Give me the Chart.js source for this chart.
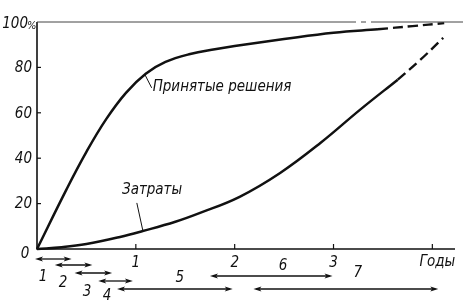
<!DOCTYPE html>
<html lang="ru">
<head>
<meta charset="UTF-8">
<title>Принятые решения и затраты</title>
<style>
  body { margin: 0; background: #fff; }
  #wrap { width: 463px; height: 307px; position: relative; }
</style>
</head>
<body>
<div id="wrap"><canvas id="chart"></canvas></div>
<script src="https://cdn.jsdelivr.net/npm/chart.js"></script>
<script>
// Decisions made, % (solid part, then the dashed extrapolation)
const decYears = [0, 0.3, 0.5, 0.7, 0.9, 1.1, 1.3, 1.55, 1.8, 2.0, 2.5, 3.0, 3.45];
const decValues = [0, 26.4, 42.8, 57.2, 68.8, 77.2, 82.4, 85.9, 88, 89.4, 92.5, 95.3, 96.8];
const decDashYears = [3.45, 3.8, 4.12];
const decDashValues = [96.8, 98.2, 99.5];

// Costs, %
const costYears = [0, 0.25, 0.5, 0.84, 1.07, 1.4, 1.65, 2.05, 2.46, 2.87, 3.27, 3.65];
const costValues = [0, 0.8, 2.2, 5.3, 7.9, 12, 15.9, 23, 33.5, 46.8, 61.4, 74.6];
const costDashYears = [3.65, 3.88, 4.11];
const costDashValues = [74.6, 83.4, 93];

// Axis ticks
const yTicks = [20, 40, 60, 80];
const xTicks = [1, 2, 3];
const xTickLabels = ['1', '2', '3'];

// Stages (years) shown as arrows under the axis
const stageLabels = ['1', '2', '3', '4', '5', '6', '7'];
const stageStart = [-0.02, 0.18, 0.38, 0.62, 0.81, 1.75, 2.19];
const stageEnd = [0.35, 0.56, 0.76, 0.97, 1.98, 2.99, 4.06];

const pts = (xs, ys) => xs.map((x, i) => ({ x: x, y: ys[i] }));
const FONT = "'DejaVu Sans Condensed', 'DejaVu Sans', sans-serif";

// rows for the arrows and their numbers (pixels below the axis)
const stageRowY = [10, 16, 24, 32, 40, 27, 40];
const stageTextDx = [-0.105, -0.107, -0.064, -0.086, 0.05, 0.12, 0.12];
const stageTextY = [28, 34, 43, 47, 29, 17, 24];

function arrowHead(ctx, x, y, dir) {
    ctx.beginPath();
    ctx.moveTo(x, y);
    ctx.lineTo(x - dir * 8, y - 2.5);
    ctx.lineTo(x - dir * 6, y);
    ctx.lineTo(x - dir * 8, y + 2.5);
    ctx.closePath();
    ctx.fill();
}

const drawFrame = {
    id: 'drawFrame',
    afterDraw(chart) {
        const ctx = chart.ctx;
        const xs = chart.scales.x, ys = chart.scales.y;
        const x0 = xs.getPixelForValue(0), y0 = ys.getPixelForValue(0);
        const yTop = ys.getPixelForValue(100);
        ctx.save();
        ctx.strokeStyle = '#111';
        ctx.fillStyle = '#111';

        // axes
        ctx.lineWidth = 1.6;
        ctx.beginPath();
        ctx.moveTo(x0, yTop);
        ctx.lineTo(x0, y0);
        ctx.lineTo(455, y0);
        ctx.stroke();

        // 100% line with a small break
        ctx.lineWidth = 1;
        ctx.strokeStyle = '#444';
        ctx.beginPath();
        ctx.moveTo(x0, yTop); ctx.lineTo(356, yTop);
        ctx.moveTo(361, yTop); ctx.lineTo(366, yTop);
        ctx.moveTo(371, yTop); ctx.lineTo(463, yTop);
        ctx.stroke();
        ctx.strokeStyle = '#111';

        // y ticks and labels
        ctx.font = 'italic 15px ' + FONT;
        ctx.textAlign = 'right';
        ctx.textBaseline = 'middle';
        ctx.lineWidth = 1.2;
        yTicks.forEach(v => {
            const y = ys.getPixelForValue(v);
            ctx.beginPath();
            ctx.moveTo(x0, y); ctx.lineTo(x0 + 4, y);
            ctx.stroke();
            ctx.fillText(String(v), 32, y + 1);
        });
        ctx.fillText('100', 28, yTop + 2);
        ctx.font = 'italic 11px ' + FONT;
        ctx.textAlign = 'left';
        ctx.fillText('%', 27, yTop + 4);
        ctx.font = 'italic 15px ' + FONT;
        ctx.textAlign = 'center';
        ctx.fillText('0', 25, y0 + 5);

        // x ticks and labels
        xTicks.concat([4]).forEach(v => {
            const x = xs.getPixelForValue(v);
            ctx.beginPath();
            ctx.moveTo(x, y0); ctx.lineTo(x, y0 - 5);
            ctx.stroke();
        });
        xTicks.forEach((v, i) => {
            ctx.fillText(xTickLabels[i], xs.getPixelForValue(v), y0 + 14);
        });
        ctx.fillText('Годы', xs.getPixelForValue(4) + 5, y0 + 13);

        // stage arrows
        ctx.lineWidth = 1.3;
        stageLabels.forEach((lab, i) => {
            const a = xs.getPixelForValue(stageStart[i]);
            const b = xs.getPixelForValue(stageEnd[i]);
            const y = y0 + stageRowY[i];
            ctx.beginPath();
            ctx.moveTo(a + 3, y); ctx.lineTo(b - 3, y);
            ctx.stroke();
            arrowHead(ctx, a, y, -1);
            arrowHead(ctx, b, y, 1);
            const tx = xs.getPixelForValue((stageStart[i] + stageEnd[i]) / 2 + stageTextDx[i]);
            ctx.fillText(lab, tx, y0 + stageTextY[i]);
        });

        // curve captions with leader lines
        ctx.lineWidth = 1;
        ctx.beginPath();
        ctx.moveTo(xs.getPixelForValue(1.09), ys.getPixelForValue(77));
        ctx.lineTo(xs.getPixelForValue(1.16), ys.getPixelForValue(71));
        ctx.moveTo(xs.getPixelForValue(1.07), ys.getPixelForValue(8.3));
        ctx.lineTo(xs.getPixelForValue(1.01), ys.getPixelForValue(20.3));
        ctx.stroke();
        ctx.textAlign = 'left';
        ctx.fillText('Принятые решения', xs.getPixelForValue(1.17), ys.getPixelForValue(71.5));
        ctx.fillText('Затраты', xs.getPixelForValue(0.86), ys.getPixelForValue(26));
        ctx.restore();
    }
};

const solid = { borderColor: '#111', borderWidth: 2.5, pointRadius: 0, fill: false,
                tension: 0.4, clip: false };
const dashed = Object.assign({}, solid, { borderDash: [10, 5], borderWidth: 2.4 });

new Chart(document.getElementById('chart'), {
    type: 'line',
    data: {
        datasets: [
            Object.assign({ label: 'Принятые решения', data: pts(decYears, decValues) }, solid),
            Object.assign({ label: 'Принятые решения (прогноз)', data: pts(decDashYears, decDashValues) }, dashed),
            Object.assign({ label: 'Затраты', data: pts(costYears, costValues) }, solid),
            Object.assign({ label: 'Затраты (прогноз)', data: pts(costDashYears, costDashValues) }, dashed)
        ]
    },
    options: {
        responsive: true,
        maintainAspectRatio: false,
        animation: false,
        layout: { padding: { left: 37, right: 1, top: 22, bottom: 58 } },
        plugins: { legend: { display: false }, tooltip: { enabled: false } },
        scales: {
            x: { type: 'linear', min: 0, max: 4.3, display: false },
            y: { min: 0, max: 100, display: false }
        }
    },
    plugins: [drawFrame]
});
</script>
</body>
</html>
